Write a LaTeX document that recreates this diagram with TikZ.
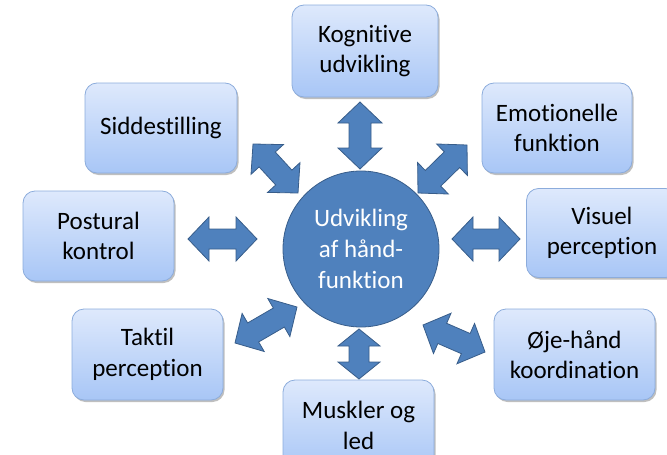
\documentclass[tikz,border=0pt]{standalone}
\usepackage{fontspec}
\setmainfont{Carlito}[Ligatures={NoCommon}]
\usetikzlibrary{calc,shadows}
\definecolor{boxtop}{RGB}{222,233,252}
\definecolor{boxbot}{RGB}{168,198,246}
\definecolor{boxline}{RGB}{140,172,220}
\definecolor{blk}{RGB}{79,129,189}
\definecolor{blkline}{RGB}{56,93,138}
\newcommand{\blockarrow}[5]{%
  \draw[blockarr] (#1) -- ($(#1)!#3!(#2)!#4!90:(#2)$) -- ($(#1)!#3!(#2)!#5!90:(#2)$)
    -- ($(#2)!#3!(#1)!#5!-90:(#1)$) -- ($(#2)!#3!(#1)!#4!-90:(#1)$) -- (#2)
    -- ($(#2)!#3!(#1)!#4!90:(#1)$) -- ($(#2)!#3!(#1)!#5!90:(#1)$)
    -- ($(#1)!#3!(#2)!#5!-90:(#2)$) -- ($(#1)!#3!(#2)!#4!-90:(#2)$) -- cycle;}
\tikzset{
  box/.style={draw=boxline, line width=0.8pt, rounded corners=12pt, top color=boxtop, bottom color=boxbot,
    minimum width=151pt, minimum height=91pt, align=center, inner sep=2pt,
    font=\fontsize{25}{30.5}\selectfont, text=black,
    drop shadow={shadow xshift=1.5pt, shadow yshift=-2pt, fill=black, opacity=0.25}},
  hub/.style={circle, draw=blkline, line width=0.8pt, fill=blk, minimum size=156pt, inner sep=0pt,
    align=center, text=white, font=\fontsize{25}{31}\selectfont},
  blockarr/.style={draw=blkline, line width=0.8pt, fill=blk, line join=miter}
}
\begin{document}
\begin{tikzpicture}[x=1pt,y=-1pt]
\useasboundingbox (0,0) rectangle (667,455);
\clip (0,0) rectangle (667,455);
\node[box, minimum width=146pt, minimum height=92pt] (kog) at (365,51) {Kognitive\\udvikling};
\node[box, minimum width=152pt, minimum height=90pt] (sid) at (161,128) {Siddestilling};
\node[box, minimum width=150pt, minimum height=90pt] (emo) at (557,128) {Emotionelle\\funktion};
\node[box, minimum width=151pt, minimum height=90pt] (pos) at (98.5,236) {Postural\\kontrol};
\node[box, minimum width=151pt, minimum height=89pt] (vis) at (602,233) {Visuel\\perception};
\node[box, minimum width=151pt, minimum height=91pt] (tak) at (147.5,354.5) {Taktil\\perception};
\node[box, minimum width=161pt, minimum height=91pt] (oje) at (574.5,354.5) {Øje-hånd\\koordination};
\node[box, minimum width=151pt, minimum height=91pt] (mus) at (358.5,425.5) {Muskler og\\led};
\node[hub] (hub) at (361,249) {Udvikling\\af hånd-\\funktion};
% arrow tips
\coordinate (t1) at (360,102); \coordinate (t2) at (360,169);
\coordinate (a1) at (253,144); \coordinate (a2) at (298,193);
\coordinate (b1) at (418,193); \coordinate (b2) at (467,145);
\coordinate (c1) at (188,239); \coordinate (c2) at (257,239);
\coordinate (d1) at (452,239); \coordinate (d2) at (520,239);
\coordinate (e1) at (235,343); \coordinate (e2) at (297,307);
\coordinate (f1) at (423,325); \coordinate (f2) at (485,352);
\coordinate (g1) at (359,329); \coordinate (g2) at (359,379);
\blockarrow{t1}{t2}{21pt}{22pt}{11pt}
\blockarrow{a1}{a2}{21pt}{22pt}{11pt}
\blockarrow{b1}{b2}{21pt}{22pt}{11pt}
\blockarrow{c1}{c2}{21pt}{22pt}{10pt}
\blockarrow{d1}{d2}{21pt}{22pt}{10pt}
\blockarrow{e1}{e2}{21pt}{22pt}{11pt}
\blockarrow{f1}{f2}{21pt}{22pt}{11pt}
\blockarrow{g1}{g2}{17pt}{21pt}{10pt}
\end{tikzpicture}
\end{document}
